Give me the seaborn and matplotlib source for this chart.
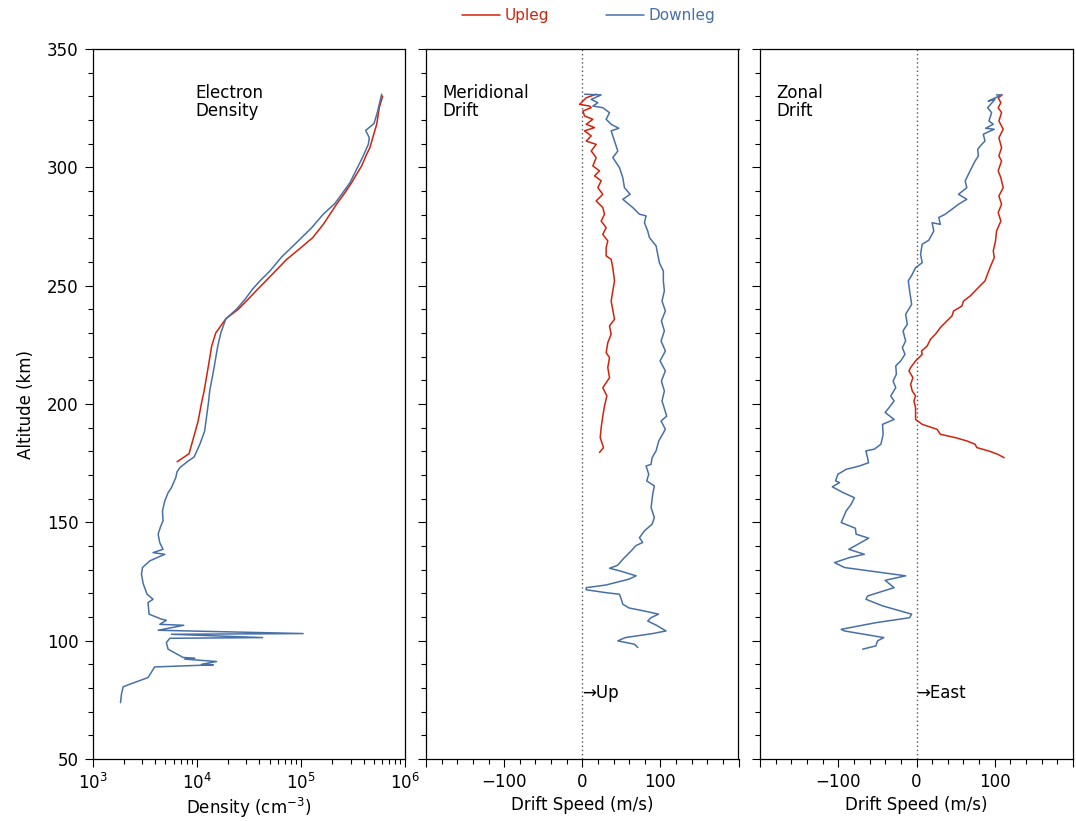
import numpy as np
import pandas as pd
import matplotlib
matplotlib.use("Agg")
import matplotlib.pyplot as plt
from matplotlib.lines import Line2D
from matplotlib.ticker import MultipleLocator, LogLocator, FuncFormatter, NullFormatter
import seaborn as sns

# ---------------- data: altitude (km) and measured quantity ----------------
# Electron density (cm^-3)
dens_up_alt = [330.1, 325.2, 318.2, 313.2, 308.3, 305.5, 300.6, 297.1, 293.5, 289.3,
               284.4, 275.9, 270.3, 265.4, 261.1, 256.2, 252.0, 248.0, 244.2, 240.0,
               236.0, 230.0, 224.5, 215.0, 205.0, 201.3, 192.8, 179.0, 175.6]
dens_up_val = [6.1e5, 5.66e5, 5.35e5, 4.95e5, 4.60e5, 4.28e5, 3.83e5, 3.43e5, 3.07e5, 2.65e5,
               2.20e5, 1.64e5, 1.30e5, 9.6e4, 7.3e4, 5.7e4, 4.6e4, 3.75e4, 3.1e4, 2.5e4,
               1.90e4, 1.52e4, 1.39e4, 1.28e4, 1.17e4, 1.12e4, 1.03e4, 8.43e3, 6.47e3]

dens_dn_alt = [330.9, 323.1, 318.5, 315.6, 312.5, 309.7, 304.8, 299.2, 293.5, 288.6,
               284.7, 280.2, 274.5, 268.2, 262.1, 256.2, 252.0, 248.5, 244.2, 240.0,
               236.0, 230.0, 224.5, 215.0, 205.5, 201.3, 188.6, 183.0, 177.6, 175.9,
               173.1, 171.4, 168.9, 164.7, 162.5, 159.0, 154.8, 150.6, 148.1, 145.0,
               141.4, 138.6, 137.2, 136.5, 133.7, 130.9, 128.1, 124.2, 119.6, 117.5,
               116.1, 111.2, 109.1, 108.6, 106.9, 106.5, 104.4, 103.0, 102.7, 101.3,
               101.0, 99.2, 96.4, 92.9, 92.6, 92.2, 91.2, 90.0, 89.8, 88.9,
               84.4, 81.6, 80.5, 77.4, 73.8]
dens_dn_val = [5.97e5, 5.42e5, 5.04e5, 4.19e5, 4.54e5, 4.44e5, 3.97e5, 3.43e5, 2.96e5, 2.46e5,
               2.12e5, 1.64e5, 1.27e5, 9.08e4, 6.52e4, 5.04e4, 4.04e4, 3.43e4, 2.90e4, 2.40e4,
               1.90e4, 1.70e4, 1.59e4, 1.46e4, 1.33e4, 1.30e4, 1.19e4, 1.07e4, 9.42e3, 8.26e3,
               6.87e3, 6.47e3, 6.28e3, 5.71e3, 5.30e3, 4.92e3, 4.68e3, 4.74e3, 4.48e3, 4.25e3,
               4.41e3, 4.74e3, 3.80e3, 4.92e3, 3.53e3, 3.01e3, 2.94e3, 3.05e3, 3.33e3, 3.80e3,
               3.40e3, 3.48e3, 4.57e3, 5.10e3, 4.41e3, 7.50e3, 4.25e3, 1.05e5, 5.71e3, 4.29e4,
               5.50e3, 5.10e3, 5.30e3, 7.38e3, 9.57e3, 7.67e3, 1.55e4, 1.11e4, 1.44e4, 3.94e3,
               3.40e3, 2.27e3, 1.96e3, 1.89e3, 1.85e3]

# Meridional drift (m/s, positive up)
mer_up_alt = [330.9, 329.4, 326.6, 325.9, 325.2, 323.8, 321.7, 320.3, 318.2, 316.8,
              315.4, 313.3, 311.1, 309.7, 306.9, 304.1, 300.6, 298.5, 296.4, 294.3,
              291.4, 288.6, 285.8, 283.0, 280.2, 277.3, 274.5, 271.7, 268.9, 266.1,
              262.6, 261.1, 257.6, 252.0, 247.8, 243.5, 235.8, 233.0, 229.5, 225.9,
              221.7, 219.6, 215.4, 211.1, 206.9, 203.4, 199.2, 194.9, 190.0, 185.8,
              181.6, 179.5]
mer_up_val = [17.8, 5.1, -3.4, 9.3, 11.5, 0.8, 2.9, 13.6, 5.1, 15.7,
              2.9, 11.5, 5.1, 17.8, 11.5, 17.8, 13.6, 22.1, 15.7, 24.2,
              20.0, 26.3, 17.8, 26.3, 28.5, 24.2, 30.6, 26.3, 32.7, 30.6,
              30.6, 37.0, 39.1, 41.3, 39.1, 37.0, 41.3, 34.9, 37.0, 32.7,
              30.6, 34.9, 32.7, 34.9, 26.3, 31.5, 28.5, 26.3, 24.2, 23.0,
              27.2, 22.1]

mer_dn_alt = [330.9, 330.6, 328.7, 327.3, 325.9, 325.2, 323.1, 320.3, 318.2, 316.5,
              315.4, 311.1, 306.9, 304.1, 299.9, 295.6, 291.4, 288.6, 286.5, 283.0,
              280.2, 279.5, 276.6, 273.1, 270.3, 266.8, 263.3, 259.7, 256.2, 252.0,
              247.8, 243.5, 239.3, 235.1, 230.9, 226.6, 222.4, 218.2, 214.0, 209.7,
              205.5, 201.3, 194.9, 192.8, 189.3, 184.4, 180.2, 177.3, 174.5, 173.8,
              170.3, 167.5, 165.4, 161.9, 156.2, 152.0, 149.2, 146.4, 143.5, 141.5,
              140.2, 137.9, 135.1, 131.8, 130.6, 129.5, 127.4, 126.0, 123.5, 122.4,
              121.5, 120.3, 119.6, 117.5, 115.4, 113.8, 112.5, 111.2, 109.7, 108.3,
              106.5, 104.1, 103.0, 101.3, 99.9, 98.5, 97.1]
mer_dn_val = [2.9, 24.2, 11.5, 20.0, 13.6, 26.3, 34.9, 30.6, 37.0, 46.8,
              37.0, 41.3, 45.5, 39.1, 47.6, 51.9, 54.0, 61.3, 51.9, 64.7,
              73.2, 81.7, 79.6, 83.8, 86.0, 94.5, 96.6, 98.7, 103.8, 103.8,
              105.1, 102.1, 106.4, 101.3, 105.1, 100.9, 106.4, 99.6, 106.4, 101.3,
              105.1, 102.1, 108.1, 100.9, 106.4, 97.9, 94.5, 89.4, 88.1, 81.7,
              85.1, 82.5, 92.3, 90.2, 88.1, 92.3, 89.4, 79.6, 73.2, 77.4,
              68.9, 62.5, 54.0, 45.0, 35.0, 48.0, 68.9, 60.0, 30.0, 5.1,
              5.0, 30.0, 47.6, 50.0, 51.9, 60.0, 80.0, 97.6, 88.0, 83.8,
              95.0, 107.2, 90.0, 55.0, 45.5, 66.8, 71.1]

# Zonal drift (m/s, positive east)
zon_up_alt = [330.6, 329.4, 327.3, 325.2, 323.1, 319.6, 316.1, 312.5, 308.3, 304.8,
              302.7, 298.5, 295.6, 291.4, 287.9, 284.4, 280.9, 277.3, 273.1, 268.9,
              264.7, 261.9, 257.6, 252.0, 249.2, 245.6, 243.5, 241.4, 239.3, 237.2,
              234.4, 232.3, 229.5, 227.3, 224.5, 222.4, 221.0, 218.2, 215.4, 214.0,
              211.1, 208.3, 205.5, 203.4, 201.3, 198.5, 193.5, 191.4, 189.3, 187.2,
              185.8, 184.4, 183.0, 181.6, 180.2, 178.8, 177.3]
zon_up_val = [109.5, 104.4, 107.8, 104.4, 108.7, 105.3, 110.8, 105.3, 108.7, 105.3,
              108.7, 104.4, 107.8, 110.8, 105.3, 108.7, 104.4, 107.8, 102.3, 101.0,
              98.1, 99.4, 93.9, 87.5, 79.1, 68.5, 60.1, 58.0, 47.4, 45.3,
              36.8, 30.5, 24.2, 17.8, 13.6, 6.4, 7.3, -1.2, -7.5, -9.6,
              -4.6, -7.5, -5.4, -1.2, -3.3, -1.2, -1.2, 7.3, 26.3, 30.5,
              49.5, 64.3, 74.9, 77.0, 91.8, 103.6, 112.0]

zon_dn_alt = [330.6, 330.6, 328.0, 328.7, 325.2, 323.1, 319.6, 318.2, 316.5, 316.1,
              314.0, 311.1, 309.7, 307.6, 304.8, 302.7, 299.9, 297.1, 294.2, 291.4,
              288.6, 286.5, 284.4, 282.3, 280.2, 278.8, 275.9, 276.6, 273.1, 269.2,
              267.5, 263.3, 259.7, 257.6, 254.8, 252.0, 247.8, 242.1, 237.9, 233.7,
              230.9, 226.6, 223.8, 221.0, 218.2, 216.1, 212.6, 209.7, 206.9, 203.4,
              201.3, 198.5, 196.4, 193.5, 191.4, 187.2, 183.0, 180.9, 180.2, 175.2,
              173.8, 172.4, 170.3, 167.5, 166.8, 165.0, 162.6, 160.4, 157.6, 154.8,
              149.9, 147.5, 145.0, 143.3, 138.6, 136.5, 135.1, 133.0, 130.9, 127.4,
              125.5, 122.4, 118.9, 117.5, 114.7, 111.2, 109.7, 107.6, 104.8, 104.1,
              101.3, 99.9, 97.8, 96.4]
zon_dn_val = [102.3, 108.7, 91.8, 100.2, 90.9, 96.0, 92.6, 98.1, 88.4, 99.4,
              85.4, 87.5, 83.3, 78.2, 79.1, 74.9, 70.6, 66.4, 62.2, 64.3,
              53.7, 64.3, 53.7, 45.3, 36.8, 28.4, 30.5, 19.9, 22.1, 15.7,
              7.3, 5.2, 7.3, -1.2, -5.4, -10.5, -8.8, -6.2, -13.9, -11.7,
              -17.2, -13.9, -18.1, -14.7, -20.2, -26.5, -25.7, -29.9, -26.5, -32.9,
              -28.6, -35.0, -40.1, -28.6, -43.4, -42.6, -45.5, -54.0, -64.6, -61.2,
              -73.0, -89.9, -100.5, -103.4, -98.4, -107.6, -94.1, -79.3, -83.6, -89.9,
              -96.2, -78.1, -77.2, -61.2, -86.5, -66.7, -85.7, -104.7, -92.0, -13.9,
              -40.1, -28.6, -62.4, -64.6, -43.4, -6.2, -8.8, -51.9, -96.2, -92.0,
              -41.8, -49.8, -51.9, -68.8]

legs = ["Upleg", "Downleg"]
leg_colors = {"Upleg": "#d2220c", "Downleg": "#4770a8"}

alt_ticks = [50, 100, 150, 200, 250, 300, 350]
drift_ticks = [-200, -100, 0, 100, 200]
drift_labels = {-100: "\u2212100", 0: "0", 100: "100"}


def frame(alt_up, val_up, alt_dn, val_dn):
    up = pd.DataFrame({"alt": alt_up, "val": val_up, "leg": "Upleg"})
    dn = pd.DataFrame({"alt": alt_dn, "val": val_dn, "leg": "Downleg"})
    return pd.concat([up, dn], ignore_index=True)


sns.set_theme(style="ticks")
plt.rcParams["font.family"] = ["DejaVu Sans"]
plt.rcParams.update({
    "axes.edgecolor": "black",
    "axes.labelcolor": "black",
    "text.color": "black",
    "xtick.color": "black",
    "ytick.color": "black",
})

fig = plt.figure(figsize=(10.76, 8.21), dpi=100)
H = 821.0
W = 1076.0
bottom = (H - 759) / H
height = 710 / H
ax_d = fig.add_axes([92.7 / W, bottom, 312.3 / W, height])
ax_m = fig.add_axes([426 / W, bottom, 312.5 / W, height])
ax_z = fig.add_axes([760 / W, bottom, 313 / W, height])

panels = [
    (ax_d, frame(dens_up_alt, dens_up_val, dens_dn_alt, dens_dn_val)),
    (ax_m, frame(mer_up_alt, mer_up_val, mer_dn_alt, mer_dn_val)),
    (ax_z, frame(zon_up_alt, zon_up_val, zon_dn_alt, zon_dn_val)),
]

for ax, df in panels:
    sns.lineplot(data=df, x="val", y="alt", hue="leg", hue_order=legs,
                 palette=leg_colors, sort=False, estimator=None,
                 linewidth=1.1, legend=False, ax=ax)
    ax.set_ylim(50, 350)
    ax.yaxis.set_major_locator(MultipleLocator(50))
    ax.yaxis.set_minor_locator(MultipleLocator(10))
    ax.set_yticks(alt_ticks)
    ax.tick_params(axis="both", which="both", direction="out", top=False, right=False,
                   left=True, bottom=True, colors="black", labelcolor="black",
                   labelsize=12, width=0.8)
    ax.tick_params(axis="both", which="major", length=6, pad=4)
    ax.tick_params(axis="both", which="minor", length=3.5)
    for s in ax.spines.values():
        s.set_color("black")
        s.set_linewidth(0.9)
    ax.set_ylabel("")

# Density panel
ax_d.set_xscale("log")
ax_d.set_xlim(1e3, 1e6)
ax_d.xaxis.set_major_locator(LogLocator(base=10, numticks=10))
ax_d.xaxis.set_minor_locator(LogLocator(base=10, subs=np.arange(2, 10), numticks=20))
ax_d.xaxis.set_minor_formatter(NullFormatter())
ax_d.set_xlabel("Density (cm$^{-3}$)", fontsize=12, color="black")
ax_d.set_ylabel("Altitude (km)", fontsize=12, color="black")
ax_d.yaxis.set_label_coords(-0.185, 0.5)
ax_d.xaxis.set_label_coords(0.5, -0.052)
ax_d.text(0.33, 0.951, "Electron\nDensity", transform=ax_d.transAxes,
          ha="left", va="top", fontsize=12, linespacing=1.05, color="black")

# Drift panels
for ax, title, arrow in [(ax_m, "Meridional\nDrift", "\u2192Up"),
                         (ax_z, "Zonal\nDrift", "\u2192East")]:
    ax.set_xlim(-200, 200)
    ax.set_xticks(drift_ticks)
    ax.xaxis.set_minor_locator(MultipleLocator(20))
    ax.xaxis.set_major_formatter(FuncFormatter(lambda v, p: drift_labels.get(int(round(v)), "")))
    ax.set_yticklabels([])
    ax.axvline(0, color="#555555", linestyle=(0, (1, 2)), linewidth=1.0, zorder=0)
    ax.set_xlabel("Drift Speed (m/s)", fontsize=12, color="black")
    ax.xaxis.set_label_coords(0.5, -0.052)
    ax.text(0.052, 0.951, title, transform=ax.transAxes, ha="left", va="top",
            fontsize=12, linespacing=1.05, color="black")
    ax.text(0, 78, arrow, ha="left", va="center", fontsize=12, color="black")

# Legend along the top edge
handles = [Line2D([], [], color=leg_colors[k], lw=1.1) for k in legs]
leg = fig.legend(handles, legs, loc="center", bbox_to_anchor=(0.547, 0.981), ncol=2,
                 frameon=False, fontsize=11, handlelength=2.5, handletextpad=0.3,
                 columnspacing=3.7, labelcolor="linecolor")

fig.savefig("out.png", dpi=100)
